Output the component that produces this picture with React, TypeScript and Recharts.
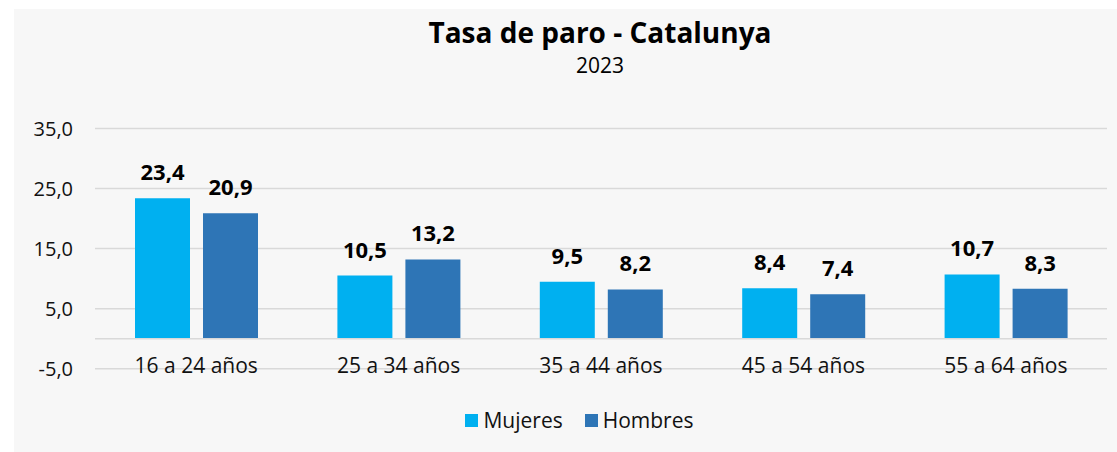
import React from "react";
import { BarChart, Bar, XAxis, YAxis, CartesianGrid, LabelList, Legend, ReferenceLine } from "recharts";

const categories = ["16 a 24 años", "25 a 34 años", "35 a 44 años", "45 a 54 años", "55 a 64 años"];
const mujeres = [23.4, 10.5, 9.5, 8.4, 10.7];
const hombres = [20.9, 13.2, 8.2, 7.4, 8.3];
const yTicks = [-5, 5, 15, 25, 35];

const data = categories.map((c, i) => ({ name: c, Mujeres: mujeres[i], Hombres: hombres[i] }));

const FONT = "'Open Sans', 'Noto Sans', sans-serif";
const C_MUJ = "#00B0F0";
const C_HOM = "#2E75B6";
const fmt = (v: any) => Number(v).toFixed(1).replace(".", ",");

const XTick = (props: any) => {
  const { x, y, payload } = props;
  return (
    <text x={x} y={y + 4.5} textAnchor="middle" fontSize={21} fill="#111" fontFamily={FONT}>
      {payload.value}
    </text>
  );
};

const LegendContent = () => (
  <div
    style={{
      height: 40,
      display: "flex",
      alignItems: "center",
      justifyContent: "center",
      paddingLeft: 52,
      fontFamily: FONT,
      fontSize: 21,
      color: "#111",
    }}
  >
    <span style={{ display: "inline-block", width: 13, height: 13, background: C_MUJ, marginRight: 5 }} />
    <span style={{ marginRight: 22 }}>Mujeres</span>
    <span style={{ display: "inline-block", width: 13, height: 13, background: C_HOM, marginRight: 5 }} />
    <span>Hombres</span>
  </div>
);

const labelStyle = { fontSize: 22, fontWeight: 700, fill: "#000", fontFamily: FONT };

export default function App() {
  return (
    <div style={{ position: "absolute", left: 0, top: 0, width: 1117, height: 452, background: "#fff" }}>
      <div style={{ position: "absolute", left: 14, top: 9, width: 1103, height: 443, background: "#f7f7f7" }} />
      <div
        style={{
          position: "absolute",
          left: 0,
          width: 1200,
          top: 18,
          textAlign: "center",
          fontFamily: FONT,
          fontWeight: 700,
          fontSize: 28,
          lineHeight: "28px",
          color: "#000",
        }}
      >
        Tasa de paro - Catalunya
      </div>
      <div
        style={{
          position: "absolute",
          left: 0,
          width: 1200,
          top: 55,
          textAlign: "center",
          fontFamily: FONT,
          fontSize: 21,
          lineHeight: "21px",
          color: "#000",
        }}
      >
        2023
      </div>
      <div style={{ position: "absolute", left: 0, top: 0 }}>
        <BarChart
          width={1117}
          height={452}
          data={data}
          margin={{ top: 128.5, right: 10, left: 0, bottom: 12 }}
          barCategoryGap={40}
          barGap={13}
        >
          <CartesianGrid horizontal={true} vertical={false} stroke="#d9d9d9" strokeWidth={1.5} />
          <ReferenceLine y={0} stroke="#d9d9d9" strokeWidth={1.5} />
          <XAxis
            dataKey="name"
            axisLine={false}
            tickLine={false}
            tickSize={0}
            tickMargin={0}
            height={31.3}
            tick={<XTick />}
            interval={0}
          />
          <YAxis
            domain={[-5, 35]}
            ticks={yTicks}
            width={95}
            axisLine={false}
            tickLine={false}
            tickSize={0}
            tickMargin={22}
            tickFormatter={fmt}
            tick={{ fontSize: 20, fill: "#111", fontFamily: FONT }}
            allowDataOverflow
          />
          <Legend verticalAlign="bottom" content={<LegendContent />} />
          <Bar dataKey="Mujeres" fill={C_MUJ} isAnimationActive={false}>
            <LabelList dataKey="Mujeres" position="top" offset={18} formatter={fmt} style={labelStyle} />
          </Bar>
          <Bar dataKey="Hombres" fill={C_HOM} isAnimationActive={false}>
            <LabelList dataKey="Hombres" position="top" offset={18} formatter={fmt} style={labelStyle} />
          </Bar>
        </BarChart>
      </div>
    </div>
  );
}
